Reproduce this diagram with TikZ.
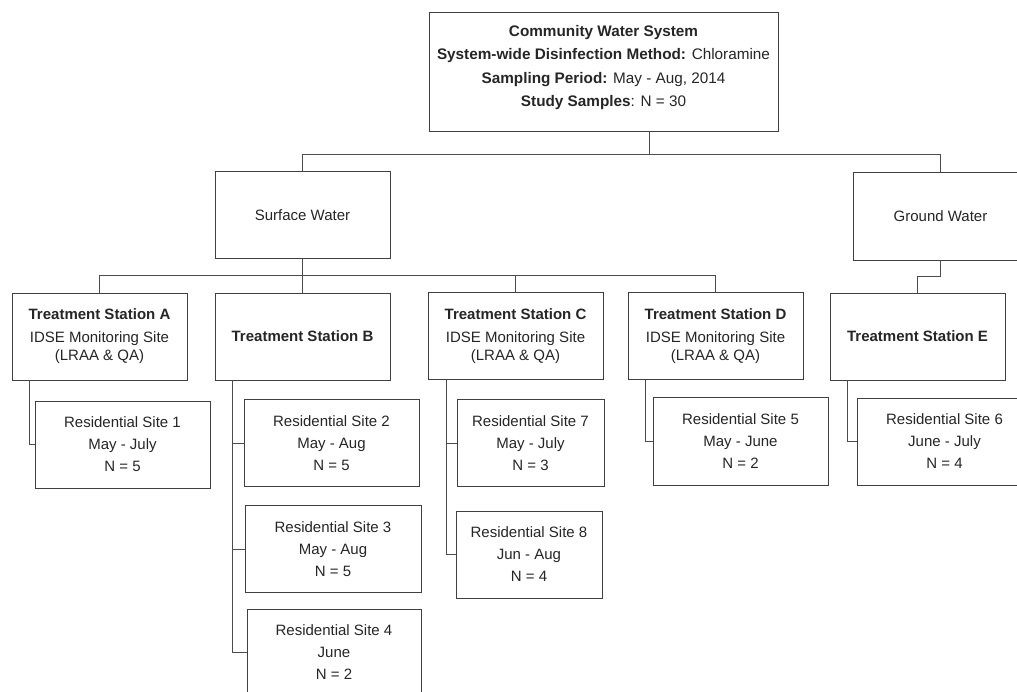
\documentclass[tikz,border=0pt]{standalone}
\usepackage{fontspec}
\setmainfont{Liberation Sans}

\begin{document}
\begin{tikzpicture}[x=1pt,y=-1pt,
   box/.style={draw=black!75,line width=0.9pt,text=black!85,align=center,
      minimum width=175pt,minimum height=87pt,inner sep=0pt,
      font=\fontsize{15}{20}\selectfont},
   site/.style={box,font=\fontsize{15}{22}\selectfont},
   wire/.style={draw=black!70,line width=0.9pt}]
   % 枠
   \path[use as bounding box,fill=white] (0,0) rectangle (1017,691);
   \clip (0,0) rectangle (1017,691);

   % 系統
   \node[box,minimum width=349pt,minimum height=119pt,font=\fontsize{15.3}{23.5}\selectfont] (cws) at (603.5,71.5)
      {\textbf{Community Water System}\\
       \textbf{System-wide Disinfection Method:} Chloramine\\
       \textbf{Sampling Period:} May - Aug, 2014\\
       \textbf{Study Samples}: N = 30\\[-12pt]\mbox{}};
   \node[box] (sw) at (302.5,215) {Surface Water};
   \node[box,minimum height=88pt] (gw) at (940.5,216) {Ground Water};

   % 処理場
   \node[box] (ta) at (99.5,336.5) {\textbf{Treatment Station A}\\[3pt] IDSE Monitoring Site\\[-2pt] (LRAA \& QA)};
   \node[box] (tb) at (302.5,336.5) {\textbf{Treatment Station B}};
   \node[box] (tc) at (515.5,336) {\textbf{Treatment Station C}\\[3pt] IDSE Monitoring Site\\[-2pt] (LRAA \& QA)};
   \node[box] (td) at (715.5,336) {\textbf{Treatment Station D}\\[3pt] IDSE Monitoring Site\\[-2pt] (LRAA \& QA)};
   \node[box] (te) at (917.5,336.5) {\textbf{Treatment Station E}};

   % 採水地点
   \node[site] (r1) at (122.5,444.5) {Residential Site 1\\ May - July\\ N = 5};
   \node[site] (r2) at (331.5,443) {Residential Site 2\\ May - Aug\\ N = 5};
   \node[site,minimum width=176pt] (r3) at (333,549) {Residential Site 3\\ May - Aug\\ N = 5};
   \node[site,minimum width=174pt] (r4) at (334,652.5) {Residential Site 4\\ June\\ N = 2};
   \node[site,minimum width=147pt] (r7) at (530.5,443) {Residential Site 7\\ May - July\\ N = 3};
   \node[site,minimum width=146pt] (r8) at (529,554.5) {Residential Site 8\\ Jun - Aug\\ N = 4};
   \node[site,minimum height=88pt] (r5) at (740.5,441) {Residential Site 5\\ May - June\\ N = 2};
   \node[site] (r6) at (944.5,441.5) {Residential Site 6\\ June - July\\ N = 4};

   % 接続
   \coordinate (bus) at ([xshift=46pt]cws.south);
   \draw[wire] (bus) -- ++(0,23) -| (sw.north);
   \draw[wire] (bus) -- ++(0,23) -| (gw.north);
   \foreach \t in {ta,tb,tc,td}
      \draw[wire] (sw.south) -- ++(0,16) -| (\t.north);
   \draw[wire] (gw.south) -- ++(0,16) -| (te.north);

   \draw[wire] ([xshift=18pt]ta.south west) |- (r1.west);
   \foreach \r in {r2,r3,r4}
      \draw[wire] ([xshift=18pt]tb.south west) |- (\r.west);
   \foreach \r in {r7,r8}
      \draw[wire] ([xshift=19pt]tc.south west) |- (\r.west);
   \draw[wire] ([xshift=18pt]td.south west) |- (r5.west);
   \draw[wire] ([xshift=18pt]te.south west) |- (r6.west);
\end{tikzpicture}
\end{document}
